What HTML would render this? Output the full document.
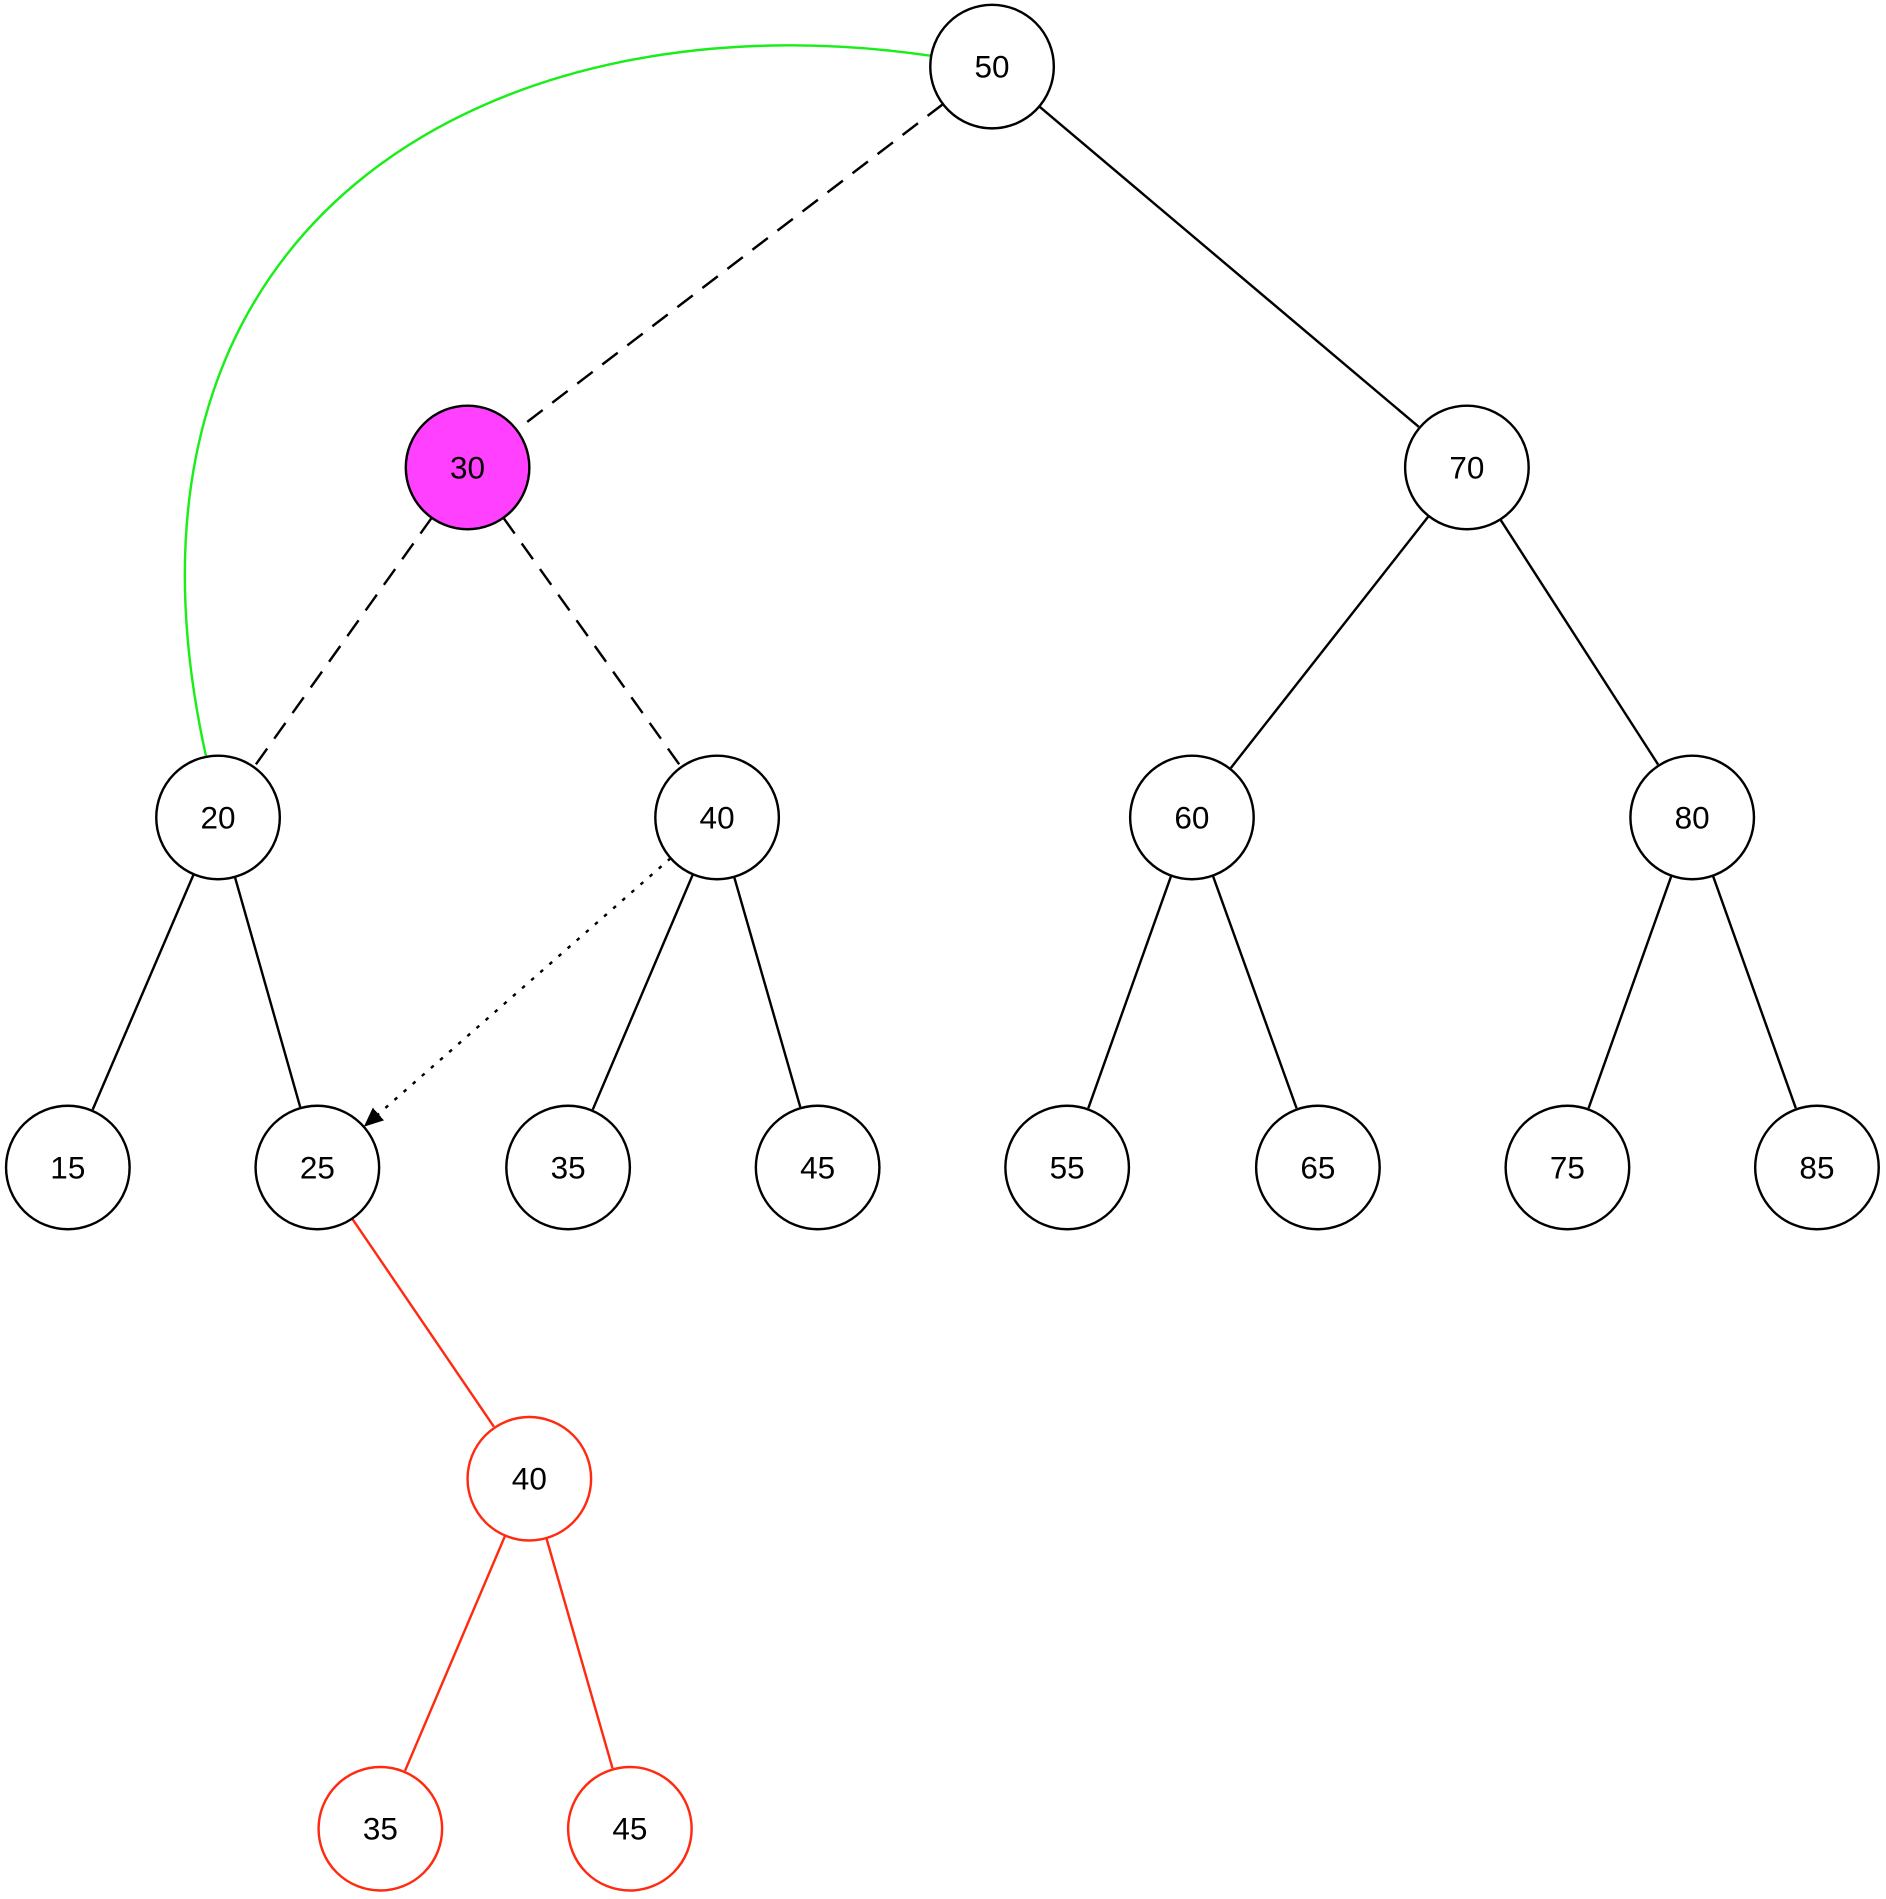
<!DOCTYPE html>
<html><head><meta charset="utf-8"><style>
html,body{margin:0;padding:0;background:#fff;}
svg{display:block;}
text{font-family:"Liberation Sans",sans-serif;font-size:26px;}
</style></head><body>
<svg id="chart" width="1886" height="1899" viewBox="0 0 1557 1568" preserveAspectRatio="none" xmlns="http://www.w3.org/2000/svg">
<defs><marker id="arrow" markerWidth="16" markerHeight="14" refX="15" refY="7" orient="auto" markerUnits="userSpaceOnUse" viewBox="0 0 16 14"><path d="M0,0 L16,7 L0,14 z" fill="#000"/></marker></defs>
<g id="edges"></g><g id="nodes"></g>
</svg>
<script>
const nodeIds = ["n50","n30","n70","n20","n40","n60","n80","n15","n25","n35","n45","n55","n65","n75","n85","r40","r35","r45"];
const nodeLabels = ["50","30","70","20","40","60","80","15","25","35","45","55","65","75","85","40","35","45"];
const nodeX = [819,386,1211,180,592,984,1397,56,262,469,675,881,1088,1294,1500,437,314,520];
const nodeY = [55,386,386,675,675,675,675,964,964,964,964,964,964,964,964,1221,1510,1510];
const nodeColors = ["#000","#000","#000","#000","#000","#000","#000","#000","#000","#000","#000","#000","#000","#000","#000","#ff2a10","#ff2a10","#ff2a10"];
const nodeFill = ["#fff","#ff40ff","#fff","#fff","#fff","#fff","#fff","#fff","#fff","#fff","#fff","#fff","#fff","#fff","#fff","#fff","#fff","#fff"];
const edgeFrom = [0,0,1,1,2,2,3,3,4,4,5,5,6,6,8,15,15,4];
const edgeTo =   [1,2,3,4,5,6,7,8,9,10,11,12,13,14,15,16,17,8];
const edgeStyle = ["dash","solid","dash","dash","solid","solid","solid","solid","solid","solid","solid","solid","solid","solid","red","red","red","dot"];
const R = 51;
const NS = "http://www.w3.org/2000/svg";
const eg = document.getElementById('edges'), ng = document.getElementById('nodes');
for (let i = 0; i < edgeFrom.length; i++) {
  const a = edgeFrom[i], b = edgeTo[i];
  const dx = nodeX[b]-nodeX[a], dy = nodeY[b]-nodeY[a], d = Math.hypot(dx,dy);
  const ux = dx/d, uy = dy/d;
  const l = document.createElementNS(NS,'line');
  
  
  l.setAttribute('x1', nodeX[a]+ux*R); l.setAttribute('y1', nodeY[a]+uy*R);
  l.setAttribute('x2', nodeX[b]-ux*(R+1)); l.setAttribute('y2', nodeY[b]-uy*(R+1));
  const st = edgeStyle[i];
  l.setAttribute('stroke', st === 'red' ? '#ff2a10' : '#000');
  l.setAttribute('stroke-width', 2);
  if (st === 'dash') l.setAttribute('stroke-dasharray', '16,10');
  if (st === 'dot') { l.setAttribute('stroke-dasharray', '3,7'); l.setAttribute('marker-end','url(#arrow)'); }
  eg.appendChild(l);
}
const g = document.createElementNS(NS,'path');


g.setAttribute('d', `M${nodeX[0]-51},${nodeY[0]-9} C420,-5 70,170 ${nodeX[3]-10},${nodeY[3]-51}`);
g.setAttribute('fill','none'); g.setAttribute('stroke','#19ee19'); g.setAttribute('stroke-width',2);
eg.appendChild(g);
for (let i = 0; i < nodeIds.length; i++) {
  const grp = document.createElementNS(NS,'g');
  
  
  const c = document.createElementNS(NS,'circle');
  c.setAttribute('cx', nodeX[i]); c.setAttribute('cy', nodeY[i]); c.setAttribute('r', R);
  c.setAttribute('fill', nodeFill[i]); c.setAttribute('stroke', nodeColors[i]); c.setAttribute('stroke-width', 2);
  const t = document.createElementNS(NS,'text');
  
  
  t.setAttribute('x', nodeX[i]); t.setAttribute('y', nodeY[i]+9);
  t.setAttribute('text-anchor','middle');
  t.textContent = nodeLabels[i];
  grp.appendChild(c); grp.appendChild(t); ng.appendChild(grp);
}
</script>
</body></html>
